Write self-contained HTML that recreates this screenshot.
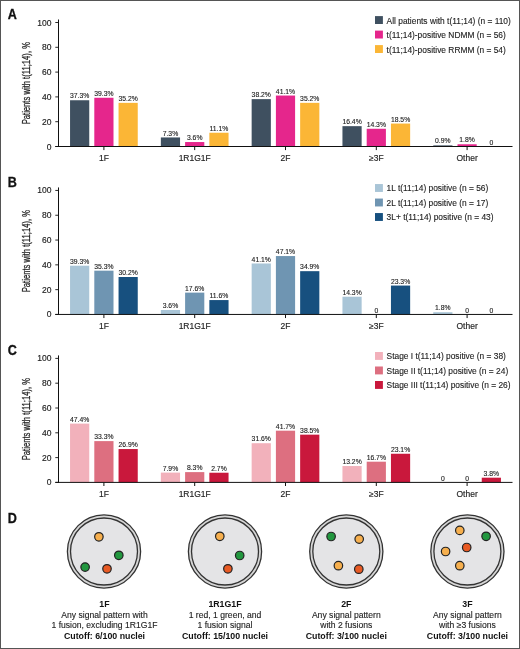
<!DOCTYPE html>
<html><head><meta charset="utf-8"><style>
html,body{margin:0;padding:0;background:#fff;width:520px;height:649px;overflow:hidden}
svg text{font-family:"Liberation Sans", sans-serif}
</style></head><body>
<svg width="520" height="649" viewBox="0 0 520 649" style="display:block;filter:blur(0.35px)">
<rect x="0" y="0" width="520" height="649" fill="#fff"/>
<text transform="translate(7.8 18.60) scale(0.9 1)" font-size="14" font-weight="bold" fill="#111" stroke="#111" stroke-width="0.3">A</text>
<text transform="translate(30.3 83.90) rotate(-90)" x="-40.45" font-size="10.6" textLength="82.3" lengthAdjust="spacingAndGlyphs" fill="#222" stroke="#222" stroke-width="0.25">Patients with t(11;14), %</text>
<line x1="55.3" y1="146.50" x2="58.5" y2="146.50" stroke="#111" stroke-width="0.9"/>
<text x="51.4" y="149.50" text-anchor="end" font-size="8.5" fill="#222" stroke="#222" stroke-width="0.15">0</text>
<line x1="55.3" y1="121.70" x2="58.5" y2="121.70" stroke="#111" stroke-width="0.9"/>
<text x="51.4" y="124.70" text-anchor="end" font-size="8.5" fill="#222" stroke="#222" stroke-width="0.15">20</text>
<line x1="55.3" y1="96.90" x2="58.5" y2="96.90" stroke="#111" stroke-width="0.9"/>
<text x="51.4" y="99.90" text-anchor="end" font-size="8.5" fill="#222" stroke="#222" stroke-width="0.15">40</text>
<line x1="55.3" y1="72.10" x2="58.5" y2="72.10" stroke="#111" stroke-width="0.9"/>
<text x="51.4" y="75.10" text-anchor="end" font-size="8.5" fill="#222" stroke="#222" stroke-width="0.15">60</text>
<line x1="55.3" y1="47.30" x2="58.5" y2="47.30" stroke="#111" stroke-width="0.9"/>
<text x="51.4" y="50.30" text-anchor="end" font-size="8.5" fill="#222" stroke="#222" stroke-width="0.15">80</text>
<line x1="55.3" y1="22.50" x2="58.5" y2="22.50" stroke="#111" stroke-width="0.9"/>
<text x="51.4" y="25.50" text-anchor="end" font-size="8.5" fill="#222" stroke="#222" stroke-width="0.15">100</text>
<rect x="70.05" y="100.25" width="19.2" height="46.25" fill="#3f5060"/>
<text x="79.65" y="98.35" text-anchor="middle" font-size="6.8" fill="#222" stroke="#222" stroke-width="0.12">37.3%</text>
<rect x="94.30" y="97.77" width="19.2" height="48.73" fill="#e5268c"/>
<text x="103.90" y="95.87" text-anchor="middle" font-size="6.8" fill="#222" stroke="#222" stroke-width="0.12">39.3%</text>
<rect x="118.55" y="102.85" width="19.2" height="43.65" fill="#fbb636"/>
<text x="128.15" y="100.95" text-anchor="middle" font-size="6.8" fill="#222" stroke="#222" stroke-width="0.12">35.2%</text>
<line x1="103.90" y1="146.5" x2="103.90" y2="150.1" stroke="#111" stroke-width="1"/>
<text x="103.90" y="160.80" text-anchor="middle" font-size="8.5" fill="#222" stroke="#222" stroke-width="0.15">1F</text>
<rect x="160.85" y="137.45" width="19.2" height="9.05" fill="#3f5060"/>
<text x="170.45" y="135.55" text-anchor="middle" font-size="6.8" fill="#222" stroke="#222" stroke-width="0.12">7.3%</text>
<rect x="185.10" y="142.04" width="19.2" height="4.46" fill="#e5268c"/>
<text x="194.70" y="140.14" text-anchor="middle" font-size="6.8" fill="#222" stroke="#222" stroke-width="0.12">3.6%</text>
<rect x="209.35" y="132.74" width="19.2" height="13.76" fill="#fbb636"/>
<text x="218.95" y="130.84" text-anchor="middle" font-size="6.8" fill="#222" stroke="#222" stroke-width="0.12">11.1%</text>
<line x1="194.70" y1="146.5" x2="194.70" y2="150.1" stroke="#111" stroke-width="1"/>
<text x="194.70" y="160.80" text-anchor="middle" font-size="8.5" fill="#222" stroke="#222" stroke-width="0.15">1R1G1F</text>
<rect x="251.65" y="99.13" width="19.2" height="47.37" fill="#3f5060"/>
<text x="261.25" y="97.23" text-anchor="middle" font-size="6.8" fill="#222" stroke="#222" stroke-width="0.12">38.2%</text>
<rect x="275.90" y="95.54" width="19.2" height="50.96" fill="#e5268c"/>
<text x="285.50" y="93.64" text-anchor="middle" font-size="6.8" fill="#222" stroke="#222" stroke-width="0.12">41.1%</text>
<rect x="300.15" y="102.85" width="19.2" height="43.65" fill="#fbb636"/>
<text x="309.75" y="100.95" text-anchor="middle" font-size="6.8" fill="#222" stroke="#222" stroke-width="0.12">35.2%</text>
<line x1="285.50" y1="146.5" x2="285.50" y2="150.1" stroke="#111" stroke-width="1"/>
<text x="285.50" y="160.80" text-anchor="middle" font-size="8.5" fill="#222" stroke="#222" stroke-width="0.15">2F</text>
<rect x="342.45" y="126.16" width="19.2" height="20.34" fill="#3f5060"/>
<text x="352.05" y="124.26" text-anchor="middle" font-size="6.8" fill="#222" stroke="#222" stroke-width="0.12">16.4%</text>
<rect x="366.70" y="128.77" width="19.2" height="17.73" fill="#e5268c"/>
<text x="376.30" y="126.87" text-anchor="middle" font-size="6.8" fill="#222" stroke="#222" stroke-width="0.12">14.3%</text>
<rect x="390.95" y="123.56" width="19.2" height="22.94" fill="#fbb636"/>
<text x="400.55" y="121.66" text-anchor="middle" font-size="6.8" fill="#222" stroke="#222" stroke-width="0.12">18.5%</text>
<line x1="376.30" y1="146.5" x2="376.30" y2="150.1" stroke="#111" stroke-width="1"/>
<text x="376.30" y="160.80" text-anchor="middle" font-size="8.5" fill="#222" stroke="#222" stroke-width="0.15">≥3F</text>
<rect x="433.25" y="145.38" width="19.2" height="1.12" fill="#3f5060"/>
<text x="442.85" y="143.48" text-anchor="middle" font-size="6.8" fill="#222" stroke="#222" stroke-width="0.12">0.9%</text>
<rect x="457.50" y="144.27" width="19.2" height="2.23" fill="#e5268c"/>
<text x="467.10" y="142.37" text-anchor="middle" font-size="6.8" fill="#222" stroke="#222" stroke-width="0.12">1.8%</text>
<text x="491.35" y="144.60" text-anchor="middle" font-size="6.8" fill="#222" stroke="#222" stroke-width="0.12">0</text>
<line x1="467.10" y1="146.5" x2="467.10" y2="150.1" stroke="#111" stroke-width="1"/>
<text x="467.10" y="160.80" text-anchor="middle" font-size="8.5" fill="#222" stroke="#222" stroke-width="0.15">Other</text>
<line x1="58.5" y1="19.50" x2="58.5" y2="147.00" stroke="#111" stroke-width="1"/>
<line x1="55.3" y1="146.50" x2="512.5" y2="146.50" stroke="#111" stroke-width="1"/>
<rect x="375.0" y="16.10" width="7.9" height="7.9" fill="#3f5060"/>
<text x="386.6" y="23.50" font-size="8.4" fill="#222" stroke="#222" stroke-width="0.12">All patients with t(11;14) (n = 110)</text>
<rect x="375.0" y="30.60" width="7.9" height="7.9" fill="#e5268c"/>
<text x="386.6" y="38.00" font-size="8.4" fill="#222" stroke="#222" stroke-width="0.12">t(11;14)-positive NDMM (n = 56)</text>
<rect x="375.0" y="45.10" width="7.9" height="7.9" fill="#fbb636"/>
<text x="386.6" y="52.50" font-size="8.4" fill="#222" stroke="#222" stroke-width="0.12">t(11;14)-positive RRMM (n = 54)</text>
<text transform="translate(7.8 186.55) scale(0.9 1)" font-size="14" font-weight="bold" fill="#111" stroke="#111" stroke-width="0.3">B</text>
<text transform="translate(30.3 251.85) rotate(-90)" x="-40.45" font-size="10.6" textLength="82.3" lengthAdjust="spacingAndGlyphs" fill="#222" stroke="#222" stroke-width="0.25">Patients with t(11;14), %</text>
<line x1="55.3" y1="314.45" x2="58.5" y2="314.45" stroke="#111" stroke-width="0.9"/>
<text x="51.4" y="317.45" text-anchor="end" font-size="8.5" fill="#222" stroke="#222" stroke-width="0.15">0</text>
<line x1="55.3" y1="289.65" x2="58.5" y2="289.65" stroke="#111" stroke-width="0.9"/>
<text x="51.4" y="292.65" text-anchor="end" font-size="8.5" fill="#222" stroke="#222" stroke-width="0.15">20</text>
<line x1="55.3" y1="264.85" x2="58.5" y2="264.85" stroke="#111" stroke-width="0.9"/>
<text x="51.4" y="267.85" text-anchor="end" font-size="8.5" fill="#222" stroke="#222" stroke-width="0.15">40</text>
<line x1="55.3" y1="240.05" x2="58.5" y2="240.05" stroke="#111" stroke-width="0.9"/>
<text x="51.4" y="243.05" text-anchor="end" font-size="8.5" fill="#222" stroke="#222" stroke-width="0.15">60</text>
<line x1="55.3" y1="215.25" x2="58.5" y2="215.25" stroke="#111" stroke-width="0.9"/>
<text x="51.4" y="218.25" text-anchor="end" font-size="8.5" fill="#222" stroke="#222" stroke-width="0.15">80</text>
<line x1="55.3" y1="190.45" x2="58.5" y2="190.45" stroke="#111" stroke-width="0.9"/>
<text x="51.4" y="193.45" text-anchor="end" font-size="8.5" fill="#222" stroke="#222" stroke-width="0.15">100</text>
<rect x="70.05" y="265.72" width="19.2" height="48.73" fill="#a9c5d7"/>
<text x="79.65" y="263.82" text-anchor="middle" font-size="6.8" fill="#222" stroke="#222" stroke-width="0.12">39.3%</text>
<rect x="94.30" y="270.68" width="19.2" height="43.77" fill="#6f95b2"/>
<text x="103.90" y="268.78" text-anchor="middle" font-size="6.8" fill="#222" stroke="#222" stroke-width="0.12">35.3%</text>
<rect x="118.55" y="277.00" width="19.2" height="37.45" fill="#17507f"/>
<text x="128.15" y="275.10" text-anchor="middle" font-size="6.8" fill="#222" stroke="#222" stroke-width="0.12">30.2%</text>
<line x1="103.90" y1="314.45" x2="103.90" y2="318.05" stroke="#111" stroke-width="1"/>
<text x="103.90" y="328.75" text-anchor="middle" font-size="8.5" fill="#222" stroke="#222" stroke-width="0.15">1F</text>
<rect x="160.85" y="309.99" width="19.2" height="4.46" fill="#a9c5d7"/>
<text x="170.45" y="308.09" text-anchor="middle" font-size="6.8" fill="#222" stroke="#222" stroke-width="0.12">3.6%</text>
<rect x="185.10" y="292.63" width="19.2" height="21.82" fill="#6f95b2"/>
<text x="194.70" y="290.73" text-anchor="middle" font-size="6.8" fill="#222" stroke="#222" stroke-width="0.12">17.6%</text>
<rect x="209.35" y="300.07" width="19.2" height="14.38" fill="#17507f"/>
<text x="218.95" y="298.17" text-anchor="middle" font-size="6.8" fill="#222" stroke="#222" stroke-width="0.12">11.6%</text>
<line x1="194.70" y1="314.45" x2="194.70" y2="318.05" stroke="#111" stroke-width="1"/>
<text x="194.70" y="328.75" text-anchor="middle" font-size="8.5" fill="#222" stroke="#222" stroke-width="0.15">1R1G1F</text>
<rect x="251.65" y="263.49" width="19.2" height="50.96" fill="#a9c5d7"/>
<text x="261.25" y="261.59" text-anchor="middle" font-size="6.8" fill="#222" stroke="#222" stroke-width="0.12">41.1%</text>
<rect x="275.90" y="256.05" width="19.2" height="58.40" fill="#6f95b2"/>
<text x="285.50" y="254.15" text-anchor="middle" font-size="6.8" fill="#222" stroke="#222" stroke-width="0.12">47.1%</text>
<rect x="300.15" y="271.17" width="19.2" height="43.28" fill="#17507f"/>
<text x="309.75" y="269.27" text-anchor="middle" font-size="6.8" fill="#222" stroke="#222" stroke-width="0.12">34.9%</text>
<line x1="285.50" y1="314.45" x2="285.50" y2="318.05" stroke="#111" stroke-width="1"/>
<text x="285.50" y="328.75" text-anchor="middle" font-size="8.5" fill="#222" stroke="#222" stroke-width="0.15">2F</text>
<rect x="342.45" y="296.72" width="19.2" height="17.73" fill="#a9c5d7"/>
<text x="352.05" y="294.82" text-anchor="middle" font-size="6.8" fill="#222" stroke="#222" stroke-width="0.12">14.3%</text>
<text x="376.30" y="312.55" text-anchor="middle" font-size="6.8" fill="#222" stroke="#222" stroke-width="0.12">0</text>
<rect x="390.95" y="285.56" width="19.2" height="28.89" fill="#17507f"/>
<text x="400.55" y="283.66" text-anchor="middle" font-size="6.8" fill="#222" stroke="#222" stroke-width="0.12">23.3%</text>
<line x1="376.30" y1="314.45" x2="376.30" y2="318.05" stroke="#111" stroke-width="1"/>
<text x="376.30" y="328.75" text-anchor="middle" font-size="8.5" fill="#222" stroke="#222" stroke-width="0.15">≥3F</text>
<rect x="433.25" y="312.22" width="19.2" height="2.23" fill="#a9c5d7"/>
<text x="442.85" y="310.32" text-anchor="middle" font-size="6.8" fill="#222" stroke="#222" stroke-width="0.12">1.8%</text>
<text x="467.10" y="312.55" text-anchor="middle" font-size="6.8" fill="#222" stroke="#222" stroke-width="0.12">0</text>
<text x="491.35" y="312.55" text-anchor="middle" font-size="6.8" fill="#222" stroke="#222" stroke-width="0.12">0</text>
<line x1="467.10" y1="314.45" x2="467.10" y2="318.05" stroke="#111" stroke-width="1"/>
<text x="467.10" y="328.75" text-anchor="middle" font-size="8.5" fill="#222" stroke="#222" stroke-width="0.15">Other</text>
<line x1="58.5" y1="187.45" x2="58.5" y2="314.95" stroke="#111" stroke-width="1"/>
<line x1="55.3" y1="314.45" x2="512.5" y2="314.45" stroke="#111" stroke-width="1"/>
<rect x="375.0" y="184.05" width="7.9" height="7.9" fill="#a9c5d7"/>
<text x="386.6" y="191.45" font-size="8.4" fill="#222" stroke="#222" stroke-width="0.12">1L t(11;14) positive (n = 56)</text>
<rect x="375.0" y="198.55" width="7.9" height="7.9" fill="#6f95b2"/>
<text x="386.6" y="205.95" font-size="8.4" fill="#222" stroke="#222" stroke-width="0.12">2L t(11;14) positive (n = 17)</text>
<rect x="375.0" y="213.05" width="7.9" height="7.9" fill="#17507f"/>
<text x="386.6" y="220.45" font-size="8.4" fill="#222" stroke="#222" stroke-width="0.12">3L+ t(11;14) positive (n = 43)</text>
<text transform="translate(7.8 354.50) scale(0.9 1)" font-size="14" font-weight="bold" fill="#111" stroke="#111" stroke-width="0.3">C</text>
<text transform="translate(30.3 419.80) rotate(-90)" x="-40.45" font-size="10.6" textLength="82.3" lengthAdjust="spacingAndGlyphs" fill="#222" stroke="#222" stroke-width="0.25">Patients with t(11;14), %</text>
<line x1="55.3" y1="482.40" x2="58.5" y2="482.40" stroke="#111" stroke-width="0.9"/>
<text x="51.4" y="485.40" text-anchor="end" font-size="8.5" fill="#222" stroke="#222" stroke-width="0.15">0</text>
<line x1="55.3" y1="457.60" x2="58.5" y2="457.60" stroke="#111" stroke-width="0.9"/>
<text x="51.4" y="460.60" text-anchor="end" font-size="8.5" fill="#222" stroke="#222" stroke-width="0.15">20</text>
<line x1="55.3" y1="432.80" x2="58.5" y2="432.80" stroke="#111" stroke-width="0.9"/>
<text x="51.4" y="435.80" text-anchor="end" font-size="8.5" fill="#222" stroke="#222" stroke-width="0.15">40</text>
<line x1="55.3" y1="408.00" x2="58.5" y2="408.00" stroke="#111" stroke-width="0.9"/>
<text x="51.4" y="411.00" text-anchor="end" font-size="8.5" fill="#222" stroke="#222" stroke-width="0.15">60</text>
<line x1="55.3" y1="383.20" x2="58.5" y2="383.20" stroke="#111" stroke-width="0.9"/>
<text x="51.4" y="386.20" text-anchor="end" font-size="8.5" fill="#222" stroke="#222" stroke-width="0.15">80</text>
<line x1="55.3" y1="358.40" x2="58.5" y2="358.40" stroke="#111" stroke-width="0.9"/>
<text x="51.4" y="361.40" text-anchor="end" font-size="8.5" fill="#222" stroke="#222" stroke-width="0.15">100</text>
<rect x="70.05" y="423.62" width="19.2" height="58.78" fill="#f2b1bb"/>
<text x="79.65" y="421.72" text-anchor="middle" font-size="6.8" fill="#222" stroke="#222" stroke-width="0.12">47.4%</text>
<rect x="94.30" y="441.11" width="19.2" height="41.29" fill="#dd6f80"/>
<text x="103.90" y="439.21" text-anchor="middle" font-size="6.8" fill="#222" stroke="#222" stroke-width="0.12">33.3%</text>
<rect x="118.55" y="449.04" width="19.2" height="33.36" fill="#c9183c"/>
<text x="128.15" y="447.14" text-anchor="middle" font-size="6.8" fill="#222" stroke="#222" stroke-width="0.12">26.9%</text>
<line x1="103.90" y1="482.4" x2="103.90" y2="486.0" stroke="#111" stroke-width="1"/>
<text x="103.90" y="496.70" text-anchor="middle" font-size="8.5" fill="#222" stroke="#222" stroke-width="0.15">1F</text>
<rect x="160.85" y="472.60" width="19.2" height="9.80" fill="#f2b1bb"/>
<text x="170.45" y="470.70" text-anchor="middle" font-size="6.8" fill="#222" stroke="#222" stroke-width="0.12">7.9%</text>
<rect x="185.10" y="472.11" width="19.2" height="10.29" fill="#dd6f80"/>
<text x="194.70" y="470.21" text-anchor="middle" font-size="6.8" fill="#222" stroke="#222" stroke-width="0.12">8.3%</text>
<rect x="209.35" y="472.73" width="19.2" height="9.67" fill="#c9183c"/>
<text x="218.95" y="470.83" text-anchor="middle" font-size="6.8" fill="#222" stroke="#222" stroke-width="0.12">2.7%</text>
<line x1="194.70" y1="482.4" x2="194.70" y2="486.0" stroke="#111" stroke-width="1"/>
<text x="194.70" y="496.70" text-anchor="middle" font-size="8.5" fill="#222" stroke="#222" stroke-width="0.15">1R1G1F</text>
<rect x="251.65" y="443.22" width="19.2" height="39.18" fill="#f2b1bb"/>
<text x="261.25" y="441.32" text-anchor="middle" font-size="6.8" fill="#222" stroke="#222" stroke-width="0.12">31.6%</text>
<rect x="275.90" y="430.69" width="19.2" height="51.71" fill="#dd6f80"/>
<text x="285.50" y="428.79" text-anchor="middle" font-size="6.8" fill="#222" stroke="#222" stroke-width="0.12">41.7%</text>
<rect x="300.15" y="434.66" width="19.2" height="47.74" fill="#c9183c"/>
<text x="309.75" y="432.76" text-anchor="middle" font-size="6.8" fill="#222" stroke="#222" stroke-width="0.12">38.5%</text>
<line x1="285.50" y1="482.4" x2="285.50" y2="486.0" stroke="#111" stroke-width="1"/>
<text x="285.50" y="496.70" text-anchor="middle" font-size="8.5" fill="#222" stroke="#222" stroke-width="0.15">2F</text>
<rect x="342.45" y="466.03" width="19.2" height="16.37" fill="#f2b1bb"/>
<text x="352.05" y="464.13" text-anchor="middle" font-size="6.8" fill="#222" stroke="#222" stroke-width="0.12">13.2%</text>
<rect x="366.70" y="461.69" width="19.2" height="20.71" fill="#dd6f80"/>
<text x="376.30" y="459.79" text-anchor="middle" font-size="6.8" fill="#222" stroke="#222" stroke-width="0.12">16.7%</text>
<rect x="390.95" y="453.76" width="19.2" height="28.64" fill="#c9183c"/>
<text x="400.55" y="451.86" text-anchor="middle" font-size="6.8" fill="#222" stroke="#222" stroke-width="0.12">23.1%</text>
<line x1="376.30" y1="482.4" x2="376.30" y2="486.0" stroke="#111" stroke-width="1"/>
<text x="376.30" y="496.70" text-anchor="middle" font-size="8.5" fill="#222" stroke="#222" stroke-width="0.15">≥3F</text>
<text x="442.85" y="480.50" text-anchor="middle" font-size="6.8" fill="#222" stroke="#222" stroke-width="0.12">0</text>
<text x="467.10" y="480.50" text-anchor="middle" font-size="6.8" fill="#222" stroke="#222" stroke-width="0.12">0</text>
<rect x="481.75" y="477.69" width="19.2" height="4.71" fill="#c9183c"/>
<text x="491.35" y="475.79" text-anchor="middle" font-size="6.8" fill="#222" stroke="#222" stroke-width="0.12">3.8%</text>
<line x1="467.10" y1="482.4" x2="467.10" y2="486.0" stroke="#111" stroke-width="1"/>
<text x="467.10" y="496.70" text-anchor="middle" font-size="8.5" fill="#222" stroke="#222" stroke-width="0.15">Other</text>
<line x1="58.5" y1="355.40" x2="58.5" y2="482.90" stroke="#111" stroke-width="1"/>
<line x1="55.3" y1="482.40" x2="512.5" y2="482.40" stroke="#111" stroke-width="1"/>
<rect x="375.0" y="352.00" width="7.9" height="7.9" fill="#f2b1bb"/>
<text x="386.6" y="359.40" font-size="8.4" fill="#222" stroke="#222" stroke-width="0.12">Stage I t(11;14) positive (n = 38)</text>
<rect x="375.0" y="366.50" width="7.9" height="7.9" fill="#dd6f80"/>
<text x="386.6" y="373.90" font-size="8.4" fill="#222" stroke="#222" stroke-width="0.12">Stage II t(11;14) positive (n = 24)</text>
<rect x="375.0" y="381.00" width="7.9" height="7.9" fill="#c9183c"/>
<text x="386.6" y="388.40" font-size="8.4" fill="#222" stroke="#222" stroke-width="0.12">Stage III t(11;14) positive (n = 26)</text>
<text transform="translate(7.8 522.8) scale(0.9 1)" font-size="14" font-weight="bold" fill="#111" stroke="#111" stroke-width="0.3">D</text>
<circle cx="104.0" cy="551.5" r="36.6" fill="#d6d6d6" stroke="#333" stroke-width="1.3"/>
<circle cx="104.0" cy="551.5" r="33.5" fill="#e4e4e6" stroke="#333" stroke-width="1.3"/>
<circle cx="98.9" cy="536.8" r="4.25" fill="#f6af4e" stroke="#222" stroke-width="1.2"/>
<circle cx="118.8" cy="555.3" r="4.25" fill="#22973f" stroke="#222" stroke-width="1.2"/>
<circle cx="85.1" cy="567.1" r="4.25" fill="#22973f" stroke="#222" stroke-width="1.2"/>
<circle cx="107" cy="568.8" r="4.25" fill="#e85a24" stroke="#222" stroke-width="1.2"/>
<circle cx="225.0" cy="551.5" r="36.6" fill="#d6d6d6" stroke="#333" stroke-width="1.3"/>
<circle cx="225.0" cy="551.5" r="33.5" fill="#e4e4e6" stroke="#333" stroke-width="1.3"/>
<circle cx="219.8" cy="536.3" r="4.25" fill="#f6af4e" stroke="#222" stroke-width="1.2"/>
<circle cx="239.7" cy="555.5" r="4.25" fill="#22973f" stroke="#222" stroke-width="1.2"/>
<circle cx="227.9" cy="568.8" r="4.25" fill="#e85a24" stroke="#222" stroke-width="1.2"/>
<circle cx="346.3" cy="551.5" r="36.6" fill="#d6d6d6" stroke="#333" stroke-width="1.3"/>
<circle cx="346.3" cy="551.5" r="33.5" fill="#e4e4e6" stroke="#333" stroke-width="1.3"/>
<circle cx="331.1" cy="536.5" r="4.25" fill="#22973f" stroke="#222" stroke-width="1.2"/>
<circle cx="359.2" cy="539.1" r="4.25" fill="#f6af4e" stroke="#222" stroke-width="1.2"/>
<circle cx="338.4" cy="565.7" r="4.25" fill="#f6af4e" stroke="#222" stroke-width="1.2"/>
<circle cx="358.8" cy="569.2" r="4.25" fill="#e85a24" stroke="#222" stroke-width="1.2"/>
<circle cx="467.4" cy="551.5" r="36.6" fill="#d6d6d6" stroke="#333" stroke-width="1.3"/>
<circle cx="467.4" cy="551.5" r="33.5" fill="#e4e4e6" stroke="#333" stroke-width="1.3"/>
<circle cx="459.8" cy="530.4" r="4.25" fill="#f6af4e" stroke="#222" stroke-width="1.2"/>
<circle cx="486.1" cy="536.3" r="4.25" fill="#22973f" stroke="#222" stroke-width="1.2"/>
<circle cx="466.7" cy="547.5" r="4.25" fill="#e85a24" stroke="#222" stroke-width="1.2"/>
<circle cx="445.6" cy="551.5" r="4.25" fill="#f6af4e" stroke="#222" stroke-width="1.2"/>
<circle cx="459.8" cy="565.7" r="4.25" fill="#f6af4e" stroke="#222" stroke-width="1.2"/>
<text x="104.5" y="606.85" text-anchor="middle" font-size="8.8" font-weight="bold" fill="#111">1F</text>
<text x="104.5" y="617.65" text-anchor="middle" font-size="8.6" fill="#222" stroke="#222" stroke-width="0.12">Any signal pattern with</text>
<text x="104.5" y="628.45" text-anchor="middle" font-size="8.6" fill="#222" stroke="#222" stroke-width="0.12">1 fusion, excluding 1R1G1F</text>
<text x="104.5" y="639.25" text-anchor="middle" font-size="8.8" font-weight="bold" fill="#111">Cutoff: 6/100 nuclei</text>
<text x="225.0" y="606.85" text-anchor="middle" font-size="8.8" font-weight="bold" fill="#111">1R1G1F</text>
<text x="225.0" y="617.65" text-anchor="middle" font-size="8.6" fill="#222" stroke="#222" stroke-width="0.12">1 red, 1 green, and</text>
<text x="225.0" y="628.45" text-anchor="middle" font-size="8.6" fill="#222" stroke="#222" stroke-width="0.12">1 fusion signal</text>
<text x="225.0" y="639.25" text-anchor="middle" font-size="8.8" font-weight="bold" fill="#111">Cutoff: 15/100 nuclei</text>
<text x="346.3" y="606.85" text-anchor="middle" font-size="8.8" font-weight="bold" fill="#111">2F</text>
<text x="346.3" y="617.65" text-anchor="middle" font-size="8.6" fill="#222" stroke="#222" stroke-width="0.12">Any signal pattern</text>
<text x="346.3" y="628.45" text-anchor="middle" font-size="8.6" fill="#222" stroke="#222" stroke-width="0.12">with 2 fusions</text>
<text x="346.3" y="639.25" text-anchor="middle" font-size="8.8" font-weight="bold" fill="#111">Cutoff: 3/100 nuclei</text>
<text x="467.4" y="606.85" text-anchor="middle" font-size="8.8" font-weight="bold" fill="#111">3F</text>
<text x="467.4" y="617.65" text-anchor="middle" font-size="8.6" fill="#222" stroke="#222" stroke-width="0.12">Any signal pattern</text>
<text x="467.4" y="628.45" text-anchor="middle" font-size="8.6" fill="#222" stroke="#222" stroke-width="0.12">with ≥3 fusions</text>
<text x="467.4" y="639.25" text-anchor="middle" font-size="8.8" font-weight="bold" fill="#111">Cutoff: 3/100 nuclei</text>
<rect x="0.5" y="0.5" width="519" height="648" fill="none" stroke="#555" stroke-width="1"/>
</svg>
</body></html>
